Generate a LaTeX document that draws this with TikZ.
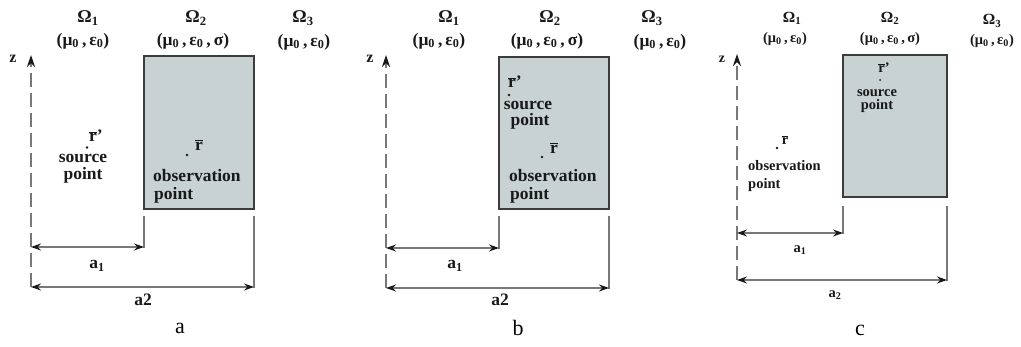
\documentclass[tikz,border=0pt]{standalone}
\usepackage{fontspec}
\setmainfont{Liberation Serif}
\usetikzlibrary{arrows.meta}
\definecolor{boxfill}{RGB}{200,210,210}
\definecolor{boxline}{RGB}{60,60,60}
\definecolor{lineg}{RGB}{120,120,120}
\definecolor{txt}{RGB}{25,25,25}
\tikzset{
  box/.style={draw=boxline, fill=boxfill, line width=1.6pt, inner sep=0pt},
  lbl/.style={text=txt, font=\bfseries\fontsize{17.5}{17.5}\selectfont, inner sep=0pt},
  lblc/.style={text=txt, font=\bfseries\fontsize{14.5}{14.5}\selectfont, inner sep=0pt},
  om/.style={text=txt, font=\bfseries\fontsize{18}{18}\selectfont, inner sep=0pt},
  omc/.style={text=txt, font=\bfseries\fontsize{15.5}{15.5}\selectfont, inner sep=0pt},
  zlbl/.style={text=txt, font=\bfseries\fontsize{16}{16}\selectfont, inner sep=0pt},
  captext/.style={text=black, font=\fontsize{22}{22}\selectfont, inner sep=0pt},
  zaxis/.style={lineg, line width=1.8pt, dash pattern=on 14pt off 6pt, -{Stealth[length=12pt,width=8pt,fill=txt,color=txt]}},
  dimline/.style={lineg, line width=1.6pt, {Stealth[length=10pt,width=7pt,color=txt]}-{Stealth[length=10pt,width=7pt,color=txt]}},
  extline/.style={lineg, line width=1.8pt},
  dotn/.style={circle, fill=txt, inner sep=0pt, minimum size=2.8pt},
}
\newcommand{\rb}{$\overline{\hbox{r}}$}
\begin{document}
\begin{tikzpicture}[x=1pt,y=-1pt]
\useasboundingbox (0,0) rectangle (1021,347);
% ================= panel a =================
\node[om] (a-o1) at (88,18) {Ω\textsubscript{1}};
\node[lbl] (a-p1) at (83,41) {(μ\textsubscript{0}\,,\,ε\textsubscript{0})};
\node[om] (a-o2) at (196,18) {Ω\textsubscript{2}};
\node[lbl] (a-p2) at (193,41) {(μ\textsubscript{0}\,,\,ε\textsubscript{0}\,,\,σ)};
\node[om] (a-o3) at (303,18) {Ω\textsubscript{3}};
\node[lbl] (a-p3) at (304,42) {(μ\textsubscript{0}\,,\,ε\textsubscript{0})};
\node[box, minimum width=110pt, minimum height=153pt] (a-box) at (199,132.5) {};
\node[zlbl] (a-z) at (13,59) {z};
\coordinate (a-axb) at (31,287);
\coordinate (a-axt) at (31,55);
\draw[zaxis] (a-axb) -- (a-axt);
\coordinate (a-e1t) at (144,216); \coordinate (a-e1b) at (144,248);
\coordinate (a-e2t) at (254,216); \coordinate (a-e2b) at (254,288);
\draw[extline] (a-e1t) -- (a-e1b);
\draw[extline] (a-e2t) -- (a-e2b);
\coordinate (a-d1l) at (31,247); \coordinate (a-d1r) at (144,247);
\draw[dimline] (a-d1l) -- (a-d1r);
\coordinate (a-d2l) at (31,287); \coordinate (a-d2r) at (254,287);
\draw[dimline] (a-d2l) -- (a-d2r);
\node[lbl] (a-a1) at (97,266) {a\textsubscript{1}};
\node[lbl] (a-a2) at (143,300) {a2};
\node[captext] (a-cap) at (180,328) {a};
\node[lbl] (a-sr) at (96,136) {\rb'};
\node[dotn] (a-sd) at (87,147.5) {};
\node[lbl] (a-st1) at (83,158) {source};
\node[lbl] (a-st2) at (83,175) {point};
\node[dotn] (a-od) at (187,155) {};
\node[lbl] (a-or) at (199,145) {\rb};
\node[lbl, anchor=west] (a-ot1) at (153,176) {observation};
\node[lbl, anchor=west] (a-ot2) at (154,195) {point};
% ================= panel b =================
\node[om] (b-o1) at (449,18) {Ω\textsubscript{1}};
\node[lbl] (b-p1) at (439,41) {(μ\textsubscript{0}\,,\,ε\textsubscript{0})};
\node[om] (b-o2) at (550,18) {Ω\textsubscript{2}};
\node[lbl] (b-p2) at (547,41) {(μ\textsubscript{0}\,,\,ε\textsubscript{0}\,,\,σ)};
\node[om] (b-o3) at (652,18) {Ω\textsubscript{3}};
\node[lbl] (b-p3) at (660,42) {(μ\textsubscript{0}\,,\,ε\textsubscript{0})};
\node[box, minimum width=110pt, minimum height=152pt] (b-box) at (554,133) {};
\node[zlbl] (b-z) at (370,59) {z};
\coordinate (b-axb) at (386,288);
\coordinate (b-axt) at (386,55);
\draw[zaxis] (b-axb) -- (b-axt);
\coordinate (b-e1t) at (499,216); \coordinate (b-e1b) at (499,249);
\coordinate (b-e2t) at (609,216); \coordinate (b-e2b) at (609,289);
\draw[extline] (b-e1t) -- (b-e1b);
\draw[extline] (b-e2t) -- (b-e2b);
\coordinate (b-d1l) at (386,248); \coordinate (b-d1r) at (499,248);
\draw[dimline] (b-d1l) -- (b-d1r);
\coordinate (b-d2l) at (386,288); \coordinate (b-d2r) at (609,288);
\draw[dimline] (b-d2l) -- (b-d2r);
\node[lbl] (b-a1) at (455,266) {a\textsubscript{1}};
\node[lbl] (b-a2) at (500,300) {a2};
\node[captext] (b-cap) at (518,328) {b};
\node[lbl] (b-sr) at (515,82) {\rb'};
\node[dotn] (b-sd) at (509,95) {};
\node[lbl] (b-st1) at (528,105) {source};
\node[lbl] (b-st2) at (530,121) {point};
\node[dotn] (b-od) at (542,157) {};
\node[lbl] (b-or) at (554,148) {\rb};
\node[lbl, anchor=west] (b-ot1) at (509,176) {observation};
\node[lbl, anchor=west] (b-ot2) at (510,195) {point};
% ================= panel c =================
\node[omc] (c-o1) at (792,18) {Ω\textsubscript{1}};
\node[lblc] (c-p1) at (785,39) {(μ\textsubscript{0}\,,\,ε\textsubscript{0})};
\node[omc] (c-o2) at (890,18) {Ω\textsubscript{2}};
\node[lblc] (c-p2) at (890,39) {(μ\textsubscript{0}\,,\,ε\textsubscript{0}\,,\,σ)};
\node[omc] (c-o3) at (992,21) {Ω\textsubscript{3}};
\node[lblc] (c-p3) at (992,41) {(μ\textsubscript{0}\,,\,ε\textsubscript{0})};
\node[box, minimum width=104pt, minimum height=142pt] (c-box) at (895,126) {};
\node[zlbl, font=\bfseries\fontsize{14}{14}\selectfont] (c-z) at (722,59) {z};
\coordinate (c-axb) at (737,280);
\coordinate (c-axt) at (737,54);
\draw[zaxis] (c-axb) -- (c-axt);
\coordinate (c-e1t) at (843,206); \coordinate (c-e1b) at (843,234);
\coordinate (c-e2t) at (947,206); \coordinate (c-e2b) at (947,281);
\draw[extline] (c-e1t) -- (c-e1b);
\draw[extline] (c-e2t) -- (c-e2b);
\coordinate (c-d1l) at (737,233); \coordinate (c-d1r) at (843,233);
\draw[dimline] (c-d1l) -- (c-d1r);
\coordinate (c-d2l) at (737,280); \coordinate (c-d2r) at (947,280);
\draw[dimline] (c-d2l) -- (c-d2r);
\node[lblc] (c-a1) at (800,250) {a\textsubscript{1}};
\node[lblc] (c-a2) at (835,295) {a\textsubscript{2}};
\node[captext] (c-cap) at (860,330) {c};
\node[lblc] (c-sr) at (884,68) {\rb'};
\node[dotn, minimum size=2pt] (c-sd) at (880,80) {};
\node[lblc] (c-st1) at (877,93) {source};
\node[lblc] (c-st2) at (877,106) {point};
\node[dotn] (c-od) at (777,148) {};
\node[lblc] (c-or) at (785,140) {\rb};
\node[lblc, anchor=west] (c-ot1) at (748,166) {observation};
\node[lblc, anchor=west] (c-ot2) at (748,185) {point};
\end{tikzpicture}
\end{document}
